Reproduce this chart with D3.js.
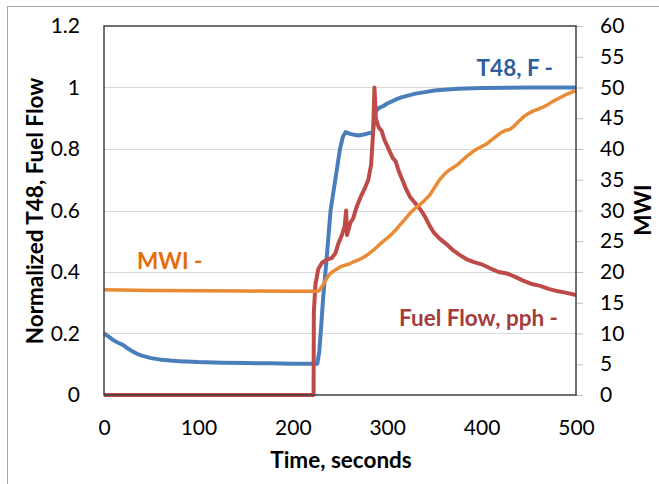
<!DOCTYPE html>
<html>
<head>
<meta charset="utf-8">
<script src="https://cdn.jsdelivr.net/npm/d3@7"></script>
<style>
	body { margin: 0; background: #fff; }
	svg { display: block; font-family: Lato, "Open Sans", sans-serif; }
	.tick-label { font-size: 21px; fill: #000; }
	.title { font-size: 22.5px; font-weight: bold; fill: #000; }
	.note { font-size: 22.5px; font-weight: bold; }
</style>
</head>
<body>
<svg id="chart" width="659" height="484"></svg>
<script>
// time in seconds and normalized values
let t48Time		= [0, 5, 10, 15, 20, 25, 30, 35, 40, 50, 60, 70, 80, 100, 125, 150, 175, 200, 226, 228, 230, 232, 236, 240, 242, 245, 248, 250, 253, 256, 260, 265, 270, 275, 280, 285, 287, 291, 296, 300, 305, 310, 315, 320, 330, 340, 350, 360, 375, 400, 450, 500];
let t48Vals		= [0.20, 0.19, 0.178, 0.17, 0.163, 0.152, 0.142, 0.134, 0.128, 0.12, 0.115, 0.112, 0.11, 0.107, 0.105, 0.104, 0.103, 0.102, 0.102, 0.14, 0.22, 0.31, 0.45, 0.6, 0.64, 0.70, 0.76, 0.80, 0.84, 0.855, 0.85, 0.846, 0.844, 0.847, 0.851, 0.855, 0.92, 0.933, 0.94, 0.948, 0.955, 0.962, 0.968, 0.972, 0.98, 0.985, 0.99, 0.993, 0.996, 0.998, 1.0, 1.0];

let fuelTime	= [0, 222, 222.3, 224, 227, 231, 236, 241, 245, 248, 252, 255, 256.5, 257.5, 261, 264, 268, 272, 276, 280, 283, 285, 286.5, 288, 291, 294, 297, 300, 303, 306, 309, 312, 316, 320, 324, 328, 332, 336, 340, 345, 349, 355, 363, 370, 377, 385, 392, 400, 409, 418, 427, 435, 444, 452, 462, 471, 480, 490, 500];
let fuelVals	= [0, 0, 0.27, 0.36, 0.41, 0.43, 0.44, 0.445, 0.46, 0.49, 0.52, 0.55, 0.60, 0.52, 0.56, 0.575, 0.615, 0.645, 0.67, 0.70, 0.75, 0.85, 1.0, 0.90, 0.87, 0.86, 0.83, 0.81, 0.79, 0.77, 0.76, 0.73, 0.70, 0.67, 0.645, 0.63, 0.615, 0.60, 0.58, 0.55, 0.53, 0.51, 0.49, 0.47, 0.455, 0.44, 0.432, 0.425, 0.412, 0.40, 0.395, 0.385, 0.372, 0.362, 0.355, 0.345, 0.338, 0.332, 0.325];

let mwiTime		= [0, 50, 100, 150, 200, 226, 228, 232, 236, 240, 245, 250, 255, 260, 265, 270, 275, 280, 285, 290, 295, 300, 305, 310, 315, 320, 325, 330, 335, 340, 345, 350, 355, 360, 365, 370, 375, 380, 385, 390, 395, 400, 405, 410, 415, 420, 425, 430, 435, 440, 445, 450, 455, 460, 465, 470, 475, 480, 485, 490, 495, 500];
let mwiVals		= [17.1, 17.0, 16.95, 16.9, 16.85, 16.85, 17.0, 17.9, 19.0, 19.8, 20.3, 20.8, 21.1, 21.3, 21.7, 22.0, 22.4, 22.9, 23.5, 24.2, 24.9, 25.5, 26.2, 27.0, 27.9, 28.8, 29.7, 30.4, 31.0, 31.7, 32.5, 33.7, 34.9, 35.8, 36.5, 37.0, 37.5, 38.2, 38.9, 39.5, 40.0, 40.4, 40.8, 41.4, 42.0, 42.6, 43.0, 43.2, 43.8, 44.6, 45.3, 45.8, 46.2, 46.5, 46.8, 47.2, 47.7, 48.1, 48.5, 48.9, 49.2, 49.5];

let xTicks		= [0, 100, 200, 300, 400, 500];
let leftTicks	= [0, 0.2, 0.4, 0.6, 0.8, 1, 1.2];
let rightTicks	= [0, 5, 10, 15, 20, 25, 30, 35, 40, 45, 50, 55, 60];

let svg		= d3.select('#chart');
let plot	= { left: 104, right: 576, top: 26, bottom: 395 };

let x		= d3.scaleLinear().domain([0, 500]).range([plot.left, plot.right]);
let yL		= d3.scaleLinear().domain([0, 1.2]).range([plot.bottom, plot.top]);
let yR		= d3.scaleLinear().domain([0, 60]).range([plot.bottom, plot.top]);

// outer chart frame
svg.append('rect').attr('x', 7.5).attr('y', 6.5).attr('width', 700).attr('height', 600).style('fill', 'none').style('stroke', '#a6a6a6').style('stroke-width', 1);

// gridlines
svg.append('g').selectAll('line').data(leftTicks.slice(1, -1)).join('line')
	.attr('x1', plot.left).attr('x2', plot.right)
	.attr('y1', d => Math.round(yL(d)) + .5).attr('y2', d => Math.round(yL(d)) + .5)
	.style('stroke', '#d9d9d9').style('stroke-width', 1);

// left axis labels
let leftAxis = svg.append('g').attr('transform', 'translate(' + plot.left + ',0)')
	.call(d3.axisLeft(yL).tickValues(leftTicks).tickSize(0).tickPadding(24).tickFormat(d3.format('~g')));
leftAxis.select('.domain').remove();
leftAxis.selectAll('text').attr('class', 'tick-label');

// right axis with outward ticks
let rightAxis = svg.append('g').attr('transform', 'translate(' + plot.right + ',0)')
	.call(d3.axisRight(yR).tickValues(rightTicks).tickSize(7).tickPadding(17));
rightAxis.select('.domain').remove();
rightAxis.selectAll('line').style('stroke', '#bfbfbf');
rightAxis.selectAll('text').attr('class', 'tick-label');

// bottom axis labels
let bottomAxis = svg.append('g').attr('transform', 'translate(0,' + plot.bottom + ')')
	.call(d3.axisBottom(x).tickValues(xTicks).tickSize(0).tickPadding(25));
bottomAxis.select('.domain').remove();
bottomAxis.selectAll('text').attr('class', 'tick-label');

svg.selectAll('g[font-size]').attr('font-size', null).attr('font-family', null);

// series, blue first then red, orange on top
let lineL	= (ts, vs) => d3.line().x((d, i) => x(ts[i])).y(d => yL(d))(vs);
let lineR	= (ts, vs) => d3.line().x((d, i) => x(ts[i])).y(d => yR(d))(vs);

svg.append('path').attr('d', lineL(t48Time, t48Vals)).style('fill', 'none').style('stroke', '#4a7ebb').style('stroke-width', 4).style('stroke-linejoin', 'round');
svg.append('path').attr('d', lineL(fuelTime, fuelVals)).style('fill', 'none').style('stroke', '#be4b48').style('stroke-width', 4).style('stroke-linejoin', 'round');
svg.append('path').attr('d', lineR(mwiTime, mwiVals)).style('fill', 'none').style('stroke', '#eb8a35').style('stroke-width', 3.5).style('stroke-linejoin', 'round');

// plot border
svg.append('rect').attr('x', plot.left).attr('y', plot.top).attr('width', plot.right - plot.left).attr('height', plot.bottom - plot.top)
	.style('fill', 'none').style('stroke', '#404040').style('stroke-width', 1.5);

// axis titles
svg.append('text').attr('class', 'title').attr('transform', 'translate(43,211) rotate(-90)').attr('text-anchor', 'middle').text('Normalized T48, Fuel Flow');
svg.append('text').attr('class', 'title').attr('transform', 'translate(651,210) rotate(-90)').attr('text-anchor', 'middle').text('MWI');
svg.append('text').attr('class', 'title').attr('x', 341).attr('y', 468).attr('text-anchor', 'middle').text('Time, seconds');

// series notes
svg.append('text').attr('class', 'note').attr('x', 553).attr('y', 76).attr('text-anchor', 'end').style('fill', '#2e5e99').text('T48, F -');
svg.append('text').attr('class', 'note').attr('x', 137).attr('y', 269).style('fill', '#e46c0a').text('MWI -');
svg.append('text').attr('class', 'note').attr('x', 558).attr('y', 326).attr('text-anchor', 'end').style('fill', '#a33c3a').text('Fuel Flow, pph -');
</script>
</body>
</html>
